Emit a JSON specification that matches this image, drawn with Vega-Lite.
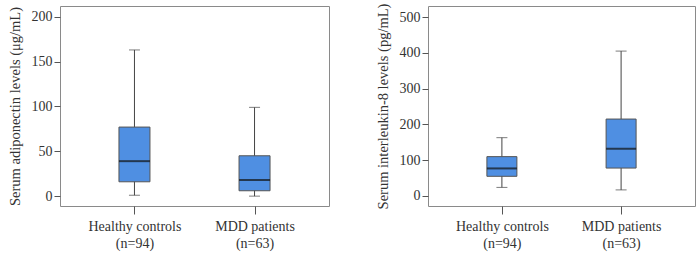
{
  "$schema": "https://vega.github.io/schema/vega-lite/v6.json",
  "padding": {"left": 6, "top": 2, "right": 2, "bottom": 5},
  "background": "white",
  "spacing": 44,
  "config": {
    "view": {"stroke": "#8a8a8a", "strokeWidth": 1},
    "font": "Liberation Serif",
    "axis": {
      "labelFont": "Liberation Serif",
      "titleFont": "Liberation Serif",
      "labelColor": "#333333",
      "titleColor": "#333333",
      "tickColor": "#555555",
      "domain": false,
      "grid": false,
      "labelOverlap": false
    }
  },
  "datasets": {
    "adiponectin": [
      {"group": "Healthy controls", "n": "(n=94)", "min": 1, "q1": 16, "median": 39, "q3": 77, "max": 163},
      {"group": "MDD patients", "n": "(n=63)", "min": 0, "q1": 6, "median": 18, "q3": 45, "max": 99}
    ],
    "il8": [
      {"group": "Healthy controls", "n": "(n=94)", "min": 24, "q1": 55, "median": 77, "q3": 110, "max": 163},
      {"group": "MDD patients", "n": "(n=63)", "min": 17, "q1": 78, "median": 132, "q3": 215, "max": 405}
    ]
  },
  "hconcat": [
    {
      "width": 269,
      "height": 200,
      "data": {"name": "adiponectin"},
      "encoding": {
        "x": {
          "field": "group", "type": "nominal",
          "scale": {"type": "point", "padding": 0.62},
          "axis": {
            "title": null, "labelAngle": 0, "labelFontSize": 14, "tickSize": 8,
            "labelPadding": 5, "labelLineHeight": 17,
            "labelExpr": "datum.value == 'Healthy controls' ? ['Healthy controls', '(n=94)'] : ['MDD patients', '(n=63)']"
          }
        }
      },
      "layer": [
        {
          "mark": {"type": "rule", "color": "#444444", "strokeWidth": 1},
          "encoding": {
            "y": {
              "field": "min", "type": "quantitative",
              "scale": {"domain": [-11, 212], "nice": false, "zero": false},
              "axis": {
                "title": "Serum adiponectin levels  (μg/mL)", "titleFontSize": 14.5, "titleFontWeight": "normal",
                "values": [0, 50, 100, 150, 200], "tickCount": 10, "labelFontSize": 14, "tickSize": 6, "titlePadding": 9,
                "labelOverlap": false
              }
            },
            "y2": {"field": "max"}
          }
        },
        {
          "mark": {"type": "bar", "size": 31, "fill": "#4f8fe2", "stroke": "#555555", "strokeWidth": 1},
          "encoding": {"y": {"field": "q1", "type": "quantitative"}, "y2": {"field": "q3"}}
        },
        {
          "mark": {"type": "tick", "size": 31, "thickness": 2, "color": "#111111"},
          "encoding": {"y": {"field": "median", "type": "quantitative"}}
        },
        {
          "mark": {"type": "tick", "size": 11, "thickness": 1, "color": "#444444"},
          "encoding": {"y": {"field": "max", "type": "quantitative"}}
        },
        {
          "mark": {"type": "tick", "size": 11, "thickness": 1, "color": "#444444"},
          "encoding": {"y": {"field": "min", "type": "quantitative"}}
        }
      ]
    },
    {
      "width": 267,
      "height": 200,
      "data": {"name": "il8"},
      "encoding": {
        "x": {
          "field": "group", "type": "nominal",
          "scale": {"type": "point", "padding": 0.62},
          "axis": {
            "title": null, "labelAngle": 0, "labelFontSize": 14, "tickSize": 8,
            "labelPadding": 5, "labelLineHeight": 17,
            "labelExpr": "datum.value == 'Healthy controls' ? ['Healthy controls', '(n=94)'] : ['MDD patients', '(n=63)']"
          }
        }
      },
      "layer": [
        {
          "mark": {"type": "rule", "color": "#444444", "strokeWidth": 1},
          "encoding": {
            "y": {
              "field": "min", "type": "quantitative",
              "scale": {"domain": [-28, 531], "nice": false, "zero": false},
              "axis": {
                "title": "Serum interleukin-8 levels (pg/mL)", "titleFontSize": 14.5, "titleFontWeight": "normal",
                "values": [0, 100, 200, 300, 400, 500], "tickCount": 10, "labelFontSize": 14, "tickSize": 6, "titlePadding": 9,
                "labelOverlap": false
              }
            },
            "y2": {"field": "max"}
          }
        },
        {
          "mark": {"type": "bar", "size": 30, "fill": "#4f8fe2", "stroke": "#555555", "strokeWidth": 1},
          "encoding": {"y": {"field": "q1", "type": "quantitative"}, "y2": {"field": "q3"}}
        },
        {
          "mark": {"type": "tick", "size": 30, "thickness": 2, "color": "#111111"},
          "encoding": {"y": {"field": "median", "type": "quantitative"}}
        },
        {
          "mark": {"type": "tick", "size": 11, "thickness": 1, "color": "#444444"},
          "encoding": {"y": {"field": "max", "type": "quantitative"}}
        },
        {
          "mark": {"type": "tick", "size": 11, "thickness": 1, "color": "#444444"},
          "encoding": {"y": {"field": "min", "type": "quantitative"}}
        }
      ]
    }
  ]
}
